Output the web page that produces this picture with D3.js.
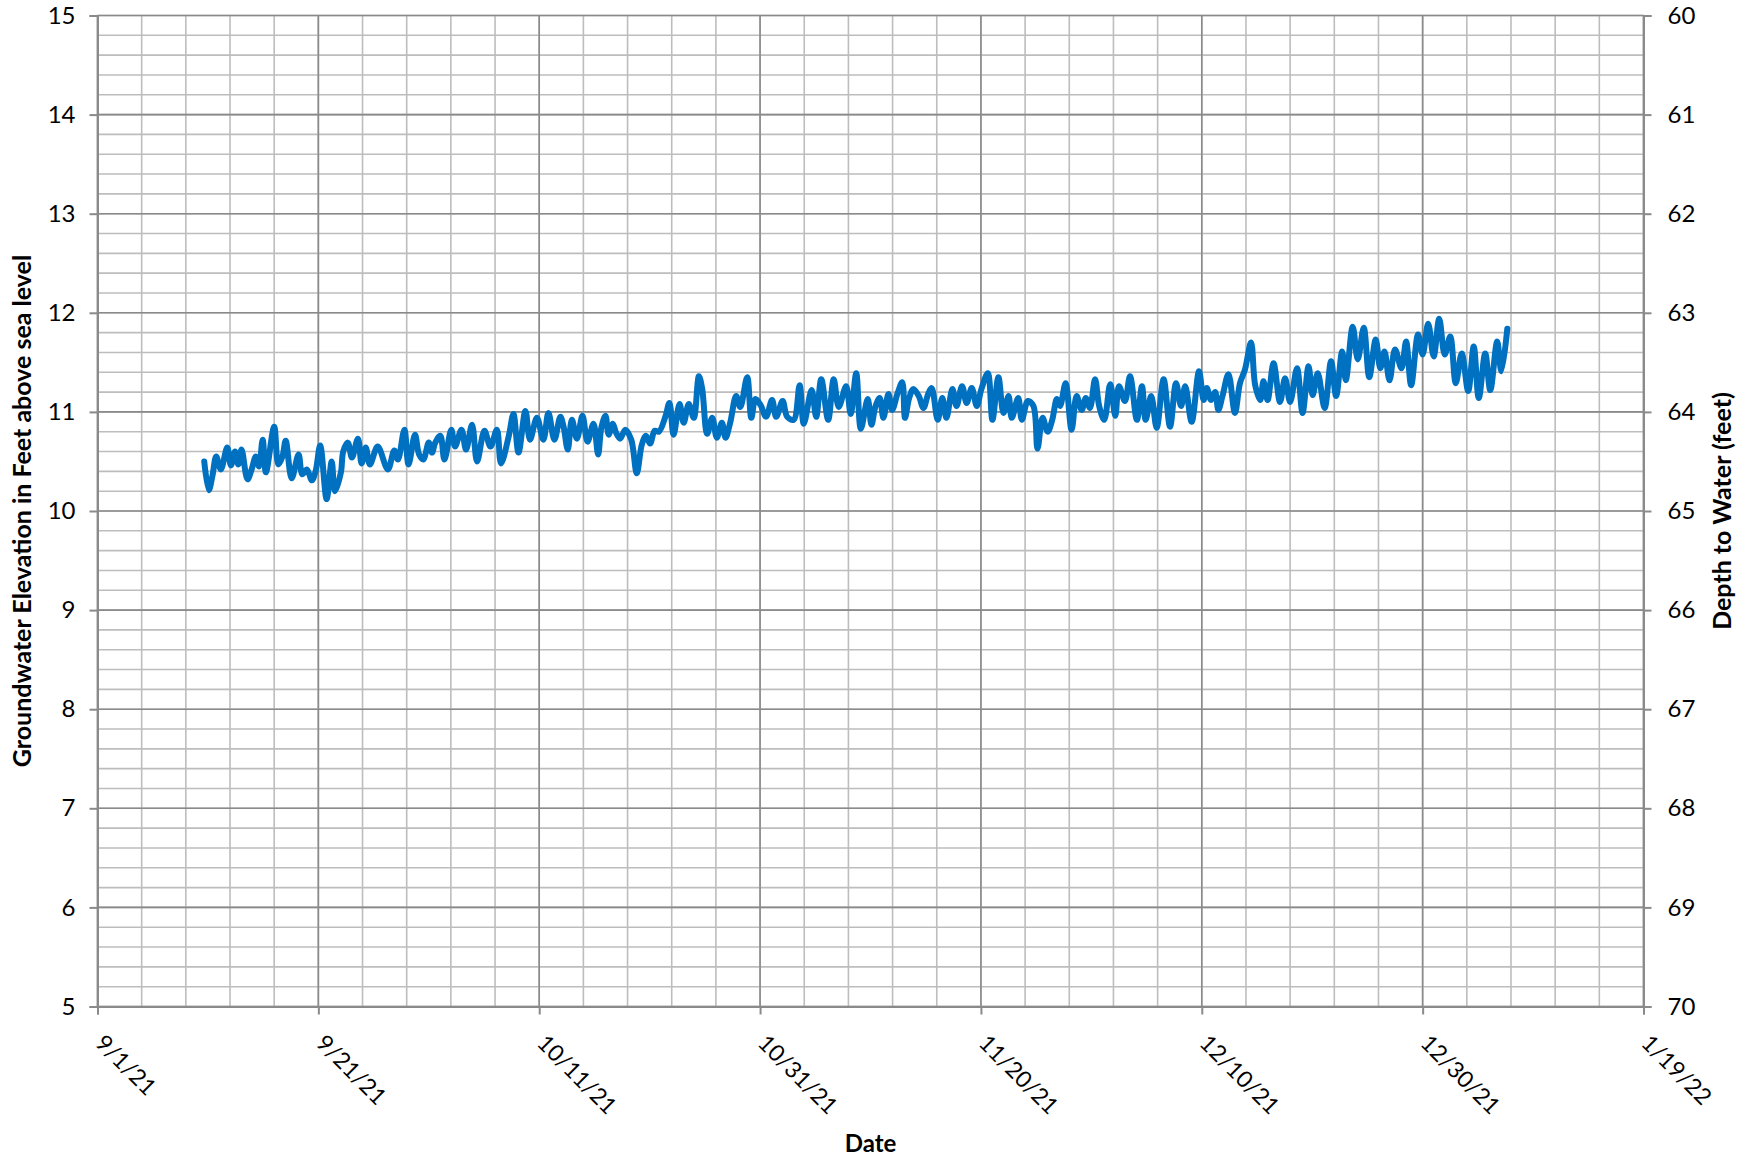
<!DOCTYPE html>
<html>
<head>
<meta charset="utf-8">
<script src="https://cdn.jsdelivr.net/npm/d3@7"></script>
<style>
  body { margin: 0; background: #fff; }
  svg text { font-family: Lato, "Open Sans", sans-serif; fill: #000; }
</style>
</head>
<body>
<svg id="chart" width="1748" height="1160"></svg>
<script>
// readings, groundwater elevation (ft above sea level)
var times = [
  "9/10/21 16:00","9/11/21 02:00","9/11/21 10:00","9/11/21 18:00","9/12/21 04:00","9/12/21 18:00",
  "9/13/21 02:00","9/13/21 11:00","9/13/21 18:00","9/14/21 01:00","9/14/21 14:00","9/14/21 23:00",
  "9/15/21 08:00","9/15/21 15:00","9/15/21 23:00","9/16/21 06:00","9/17/21 00:00","9/17/21 09:00",
  "9/17/21 18:00","9/18/21 01:00","9/18/21 14:00","9/19/21 05:00","9/19/21 13:00","9/19/21 23:00",
  "9/20/21 10:00","9/20/21 18:00","9/21/21 04:00","9/21/21 18:00","9/22/21 05:00","9/22/21 12:00",
  "9/23/21 01:00","9/23/21 06:00","9/23/21 16:00","9/24/21 01:00","9/24/21 14:00","9/24/21 22:00",
  "9/25/21 07:00","9/25/21 16:00","9/26/21 09:00","9/27/21 07:00","9/27/21 21:00","9/28/21 05:00",
  "9/28/21 19:00","9/29/21 04:00","9/29/21 18:00","9/30/21 03:00","9/30/21 12:00","10/01/21 00:00",
  "10/01/21 07:00","10/01/21 14:00","10/02/21 01:00","10/02/21 10:00","10/03/21 01:00","10/03/21 09:00",
  "10/03/21 23:00","10/04/21 09:00","10/04/21 22:00","10/05/21 09:00","10/06/21 01:00","10/06/21 14:00",
  "10/07/21 04:00","10/07/21 13:00","10/08/21 06:00","10/08/21 16:00","10/09/21 03:00","10/09/21 18:00",
  "10/10/21 04:00","10/10/21 19:00","10/11/21 09:00","10/11/21 20:00","10/12/21 09:00","10/12/21 22:00",
  "10/13/21 05:00","10/13/21 14:00","10/13/21 23:00","10/14/21 10:00","10/14/21 22:00","10/15/21 09:00",
  "10/15/21 22:00","10/16/21 08:00","10/16/21 15:00","10/17/21 00:00","10/17/21 07:00","10/17/21 16:00",
  "10/17/21 23:00","10/18/21 08:00","10/18/21 19:00","10/19/21 08:00","10/19/21 20:00","10/20/21 07:00",
  "10/20/21 16:00","10/21/21 01:00","10/21/21 11:00","10/21/21 20:00","10/22/21 10:00","10/22/21 19:00",
  "10/23/21 04:00","10/23/21 17:00","10/24/21 02:00","10/24/21 13:00","10/25/21 00:00","10/25/21 11:00",
  "10/25/21 18:00","10/26/21 05:00","10/26/21 16:00","10/27/21 02:00","10/27/21 13:00","10/27/21 21:00",
  "10/28/21 07:00","10/28/21 20:00","10/29/21 05:00","10/29/21 20:00","10/30/21 05:00","10/30/21 14:00",
  "10/31/21 01:00","10/31/21 13:00","11/01/21 02:00","11/01/21 11:00","11/02/21 01:00","11/02/21 11:00",
  "11/03/21 01:00","11/03/21 14:00","11/03/21 23:00","11/04/21 16:00","11/05/21 02:00","11/05/21 13:00",
  "11/06/21 04:00","11/06/21 16:00","11/07/21 03:00","11/07/21 19:00","11/08/21 05:00","11/08/21 17:00",
  "11/09/21 03:00","11/09/21 18:00","11/10/21 02:00","11/10/21 11:00","11/10/21 20:00","11/11/21 04:00",
  "11/11/21 15:00","11/11/21 23:00","11/12/21 11:00","11/12/21 21:00","11/13/21 03:00","11/13/21 12:00",
  "11/13/21 21:00","11/14/21 09:00","11/14/21 19:00","11/15/21 06:00","11/15/21 13:00","11/16/21 02:00",
  "11/16/21 12:00","11/16/21 21:00","11/17/21 10:00","11/17/21 19:00","11/18/21 07:00","11/18/21 17:00",
  "11/19/21 04:00","11/19/21 15:00","11/20/21 01:00","11/20/21 15:00","11/21/21 01:00","11/21/21 14:00",
  "11/22/21 01:00","11/22/21 12:00","11/22/21 19:00","11/23/21 09:00","11/23/21 17:00","11/24/21 06:00",
  "11/24/21 18:00","11/25/21 03:00","11/25/21 14:00","11/26/21 01:00","11/26/21 11:00","11/26/21 21:00",
  "11/27/21 04:00","11/27/21 16:00","11/28/21 05:00","11/28/21 16:00","11/29/21 03:00","11/29/21 12:00",
  "11/29/21 21:00","11/30/21 08:00","11/30/21 17:00","12/01/21 04:00","12/01/21 17:00","12/02/21 04:00",
  "12/02/21 12:00","12/03/21 01:00","12/03/21 12:00","12/04/21 03:00","12/04/21 14:00","12/04/21 22:00",
  "12/05/21 10:00","12/05/21 22:00","12/06/21 13:00","12/07/21 03:00","12/07/21 16:00","12/08/21 03:00",
  "12/08/21 12:00","12/09/21 02:00","12/09/21 18:00","12/10/21 04:00","12/10/21 11:00","12/10/21 20:00",
  "12/11/21 05:00","12/11/21 12:00","12/11/21 21:00","12/12/21 10:00","12/13/21 00:00","12/13/21 11:00",
  "12/13/21 22:00","12/14/21 11:00","12/14/21 20:00","12/15/21 07:00","12/15/21 14:00","12/15/21 23:00",
  "12/16/21 12:00","12/17/21 02:00","12/17/21 13:00","12/18/21 00:00","12/18/21 15:00","12/19/21 03:00",
  "12/19/21 16:00","12/20/21 01:00","12/20/21 12:00","12/21/21 03:00","12/21/21 17:00","12/22/21 04:00",
  "12/22/21 17:00","12/23/21 01:00","12/23/21 16:00","12/24/21 03:00","12/24/21 16:00","12/25/21 04:00",
  "12/25/21 18:00","12/26/21 04:00","12/26/21 13:00","12/27/21 00:00","12/27/21 12:00","12/28/21 02:00",
  "12/28/21 12:00","12/28/21 23:00","12/29/21 14:00","12/30/21 00:00","12/30/21 12:00","12/31/21 00:00",
  "12/31/21 12:00","01/01/22 00:00","01/01/22 12:00","01/02/22 00:00","01/02/22 13:00","01/03/22 03:00",
  "01/03/22 15:00","01/04/22 02:00","01/04/22 16:00","01/05/22 03:00","01/05/22 18:00","01/06/22 03:00",
  "01/06/22 16:00"
];
var elevation = [
  10.50,10.21,10.36,10.55,10.42,10.64, 10.46,10.60,10.47,10.62,10.32,10.42,
  10.55,10.45,10.72,10.39,10.85,10.47, 10.55,10.71,10.33,10.57,10.37,10.42,
  10.31,10.40,10.66,10.12,10.50,10.20, 10.39,10.60,10.69,10.54,10.73,10.48,
  10.64,10.47,10.65,10.42,10.61,10.52, 10.82,10.47,10.77,10.57,10.52,10.69,
  10.59,10.69,10.76,10.52,10.82,10.65, 10.82,10.62,10.87,10.50,10.81,10.65,
  10.82,10.48,10.76,10.98,10.59,11.01, 10.72,10.94,10.72,10.99,10.72,10.95,
  10.85,10.62,10.92,10.73,10.96,10.70, 10.88,10.57,10.84,10.96,10.77,10.88,
  10.79,10.73,10.82,10.72,10.38,10.67, 10.76,10.68,10.81,10.80,10.95,11.09,
  10.77,11.08,10.89,11.08,10.94,11.36, 11.24,10.78,10.94,10.74,10.89,10.74,
  10.89,11.16,11.05,11.35,10.94,11.13, 11.07,10.95,11.12,10.95,11.11,10.95,
  10.92,11.27,10.88,11.22,10.95,11.33, 10.92,11.33,11.05,11.26,10.98,11.39,
  10.83,11.13,10.87,11.06,11.14,10.94, 11.18,11.02,11.19,11.30,10.94,11.14,
  11.23,11.16,11.04,11.19,11.24,10.92, 11.14,10.94,11.23,11.06,11.26,11.09,
  11.24,11.06,11.23,11.39,10.92,11.35, 10.99,11.16,10.94,11.14,10.92,11.11,
  11.06,10.63,10.94,10.80,10.92,11.13, 11.06,11.29,10.82,11.16,11.02,11.14,
  11.04,11.33,11.06,10.92,11.28,10.96, 11.26,11.11,11.36,10.92,11.26,10.92,
  11.16,10.84,11.33,10.85,11.29,11.06, 11.26,10.90,11.41,11.12,11.24,11.12,
  11.20,11.02,11.16,11.38,10.99,11.29, 11.43,11.70,11.27,11.12,11.31,11.12,
  11.49,11.10,11.34,11.10,11.44,10.99, 11.46,11.17,11.39,11.04,11.51,11.16,
  11.61,11.32,11.86,11.53,11.85,11.35, 11.73,11.44,11.61,11.32,11.63,11.44,
  11.71,11.27,11.78,11.58,11.89,11.56, 11.94,11.58,11.76,11.29,11.59,11.21,
  11.66,11.14,11.59,11.22,11.71,11.41, 11.84
];

// axis setup
var xTickLabels = ["9/1/21","9/21/21","10/11/21","10/31/21","11/20/21","12/10/21","12/30/21","1/19/22"];
var leftTicks = [5,6,7,8,9,10,11,12,13,14,15];
var rightTicks = [60,61,62,63,64,65,66,67,68,69,70];

var parseTime = d3.timeParse("%m/%d/%y %H:%M");
var parseDay = d3.timeParse("%m/%d/%y");
var data = times.map(function (t, i) { return {date: parseTime(t), value: elevation[i]}; });
var xTicks = xTickLabels.map(function (s) { return parseDay(s); });

// plot box (note: "top" is taken by window.top)
var pL = 97.5, pR = 1643.5, pT = 15.5, pB = 1006.5;

var svg = d3.select("#chart");

var x = d3.scaleTime().domain([xTicks[0], xTicks[xTicks.length - 1]]).range([pL, pR]);
var y = d3.scaleLinear().domain([5, 15]).range([pB, pT]);
var yRight = d3.scaleLinear().domain([70, 60]).range([pB, pT]);

// minor grid, every 4 days and 0.2 ft
var minorX = d3.timeDay.range(xTicks[0], d3.timeDay.offset(xTicks[xTicks.length - 1], 1), 4);
var minorY = d3.range(5, 15.01, 0.2);

var grid = svg.append("g");
grid.selectAll(".vmin").data(minorX).enter().append("line")
    .attr("x1", function (d) { return x(d); }).attr("x2", function (d) { return x(d); })
    .attr("y1", pT).attr("y2", pB)
    .attr("stroke", "#bdbdbd").attr("stroke-width", 1.6);
grid.selectAll(".hmin").data(minorY).enter().append("line")
    .attr("x1", pL).attr("x2", pR)
    .attr("y1", function (d) { return y(d); }).attr("y2", function (d) { return y(d); })
    .attr("stroke", "#bdbdbd").attr("stroke-width", 1.6);

// major grid
grid.selectAll(".vmaj").data(xTicks).enter().append("line")
    .attr("x1", function (d) { return x(d); }).attr("x2", function (d) { return x(d); })
    .attr("y1", pT).attr("y2", pB)
    .attr("stroke", "#8a8a8a").attr("stroke-width", 1.6);
grid.selectAll(".hmaj").data(leftTicks).enter().append("line")
    .attr("x1", pL).attr("x2", pR)
    .attr("y1", function (d) { return y(d); }).attr("y2", function (d) { return y(d); })
    .attr("stroke", "#8a8a8a").attr("stroke-width", 1.6);

// axes
var axisLeft = d3.axisLeft(y).tickValues(leftTicks).tickSize(8).tickPadding(14).tickFormat(d3.format("d"));
var axisRight = d3.axisRight(yRight).tickValues(rightTicks).tickSize(8).tickPadding(16).tickFormat(d3.format("d"));
var axisBottom = d3.axisBottom(x).tickValues(xTicks).tickSize(8).tickFormat(function (d, i) { return xTickLabels[i]; });

function styleAxis(g) {
    g.select(".domain").attr("stroke", "#8a8a8a").attr("stroke-width", 2);
    g.selectAll(".tick line").attr("stroke", "#8a8a8a").attr("stroke-width", 2);
    g.selectAll(".tick text").style("font-size", "24px").attr("fill", "#000");
}

svg.append("g").attr("transform", "translate(" + pL + ",0)").call(axisLeft).call(styleAxis);
svg.append("g").attr("transform", "translate(" + pR + ",0)").call(axisRight).call(styleAxis);
var gx = svg.append("g").attr("transform", "translate(0," + pB + ")").call(axisBottom).call(styleAxis);
gx.selectAll(".tick text")
    .style("font-size", "23px")
    .attr("text-anchor", "start")
    .attr("dy", null)
    .attr("y", 0)
    .attr("transform", "translate(-4,38) rotate(45)");

// the series
var line = d3.line()
    .x(function (d) { return x(d.date); })
    .y(function (d) { return y(d.value); })
    .curve(d3.curveCatmullRom.alpha(0.5));

svg.append("path")
    .datum(data)
    .attr("d", line)
    .attr("fill", "none")
    .attr("stroke", "#0070c0")
    .attr("stroke-width", 6)
    .attr("stroke-linejoin", "round")
    .attr("stroke-linecap", "round");

// titles
svg.append("text")
    .attr("transform", "translate(31," + ((pT + pB) / 2) + ") rotate(-90)")
    .attr("text-anchor", "middle")
    .style("font-size", "25px").style("font-weight", "bold")
    .text("Groundwater Elevation in Feet above sea level");
svg.append("text")
    .attr("transform", "translate(1731," + ((pT + pB) / 2) + ") rotate(-90)")
    .attr("text-anchor", "middle")
    .style("font-size", "25px").style("font-weight", "bold")
    .text("Depth to Water (feet)");
svg.append("text")
    .attr("x", (pL + pR) / 2).attr("y", 1152)
    .attr("text-anchor", "middle")
    .style("font-size", "24px").style("font-weight", "bold")
    .text("Date");
</script>
</body>
</html>
